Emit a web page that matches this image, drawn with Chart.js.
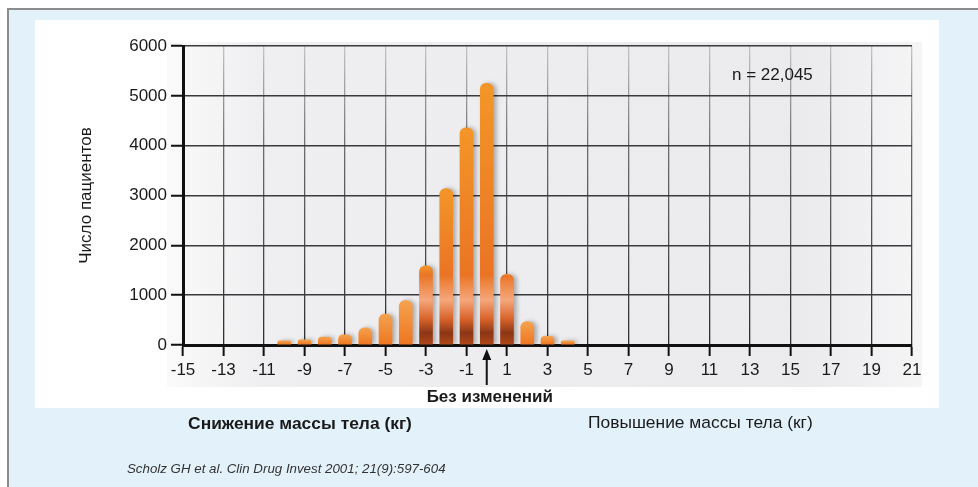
<!DOCTYPE html>
<html lang="ru">
<head>
<meta charset="utf-8">
<script src="https://cdn.jsdelivr.net/npm/chart.js@4.4.1/dist/chart.umd.min.js"></script>
<style>
  html, body { margin: 0; padding: 0; background: #ffffff; }
  body { width: 978px; height: 487px; position: relative; overflow: hidden;
         font-family: "Liberation Sans", Arial, sans-serif; color: #1a1a1a; }
  .frame { position: absolute; left: 7px; top: 8px; width: 980px; height: 490px;
           background: #e3f1fa; border-top: 2px solid #8c8c8c; border-left: 2px solid #8c8c8c; }
  .panel { position: absolute; left: 35px; top: 20px; width: 904px; height: 388px; background: #ffffff; }
  .wrap { position: absolute; left: 0; top: 0; width: 978px; height: 487px; }
  .note { position: absolute; white-space: nowrap; font-size: 17.4px; line-height: 20px; }
  .loss { left: 300px; top: 413px; transform: translateX(-50%); font-weight: bold; }
  .gain { left: 588px; top: 412px; }
  .cite { left: 127px; top: 459px; font-size: 13.3px; font-style: italic; color: #333; }
</style>
</head>
<body>
<div class="frame"></div>
<div class="panel"></div>
<div class="wrap"><canvas id="weightChart"></canvas></div>
<div class="note loss">Снижение массы тела (кг)</div>
<div class="note gain">Повышение массы тела (кг)</div>
<div class="note cite">Scholz GH et al. Clin Drug Invest 2001; 21(9):597-604</div>
<script>
// weight change (kg) and number of patients per bin
const weightChange = [-10, -9, -8, -7, -6, -5, -4, -3, -2, -1, 0, 1, 2, 3, 4];
const patients = [85, 105, 160, 205, 345, 620, 890, 1590, 3140, 4360, 5250, 1420, 470, 175, 85];

const yTicks = [0, 1000, 2000, 3000, 4000, 5000, 6000];
const xTicks = [-15, -13, -11, -9, -7, -5, -3, -1, 1, 3, 5, 7, 9, 11, 13, 15, 17, 19, 21];

const sampleLabel = 'n = 22,045';
const noChangeLabel = 'Без изменений';
const yTitle = 'Число пациентов';

const FONT = '"Liberation Sans", Arial, sans-serif';

// orange bar fill with darker base, built per bar from its own height
function barFill(context) {
  const chart = context.chart;
  const area = chart.chartArea;
  if (!area || !context.parsed) return '#f08a22';
  const yTop = chart.scales.y.getPixelForValue(context.parsed.y);
  const h = area.bottom - yTop;
  if (h <= 0) return '#f08a22';
  const g = chart.ctx.createLinearGradient(0, yTop, 0, area.bottom);
  if (h < 60) {
    g.addColorStop(0, '#f5a24e');
    g.addColorStop(1, '#ee7520');
    return g;
  }
  const f = px => Math.max(0, Math.min(1, 1 - px / h));
  g.addColorStop(0, '#f39628');
  g.addColorStop(f(70), '#ea7424');
  g.addColorStop(f(45), '#f5a77c');
  g.addColorStop(f(26), '#d8632a');
  g.addColorStop(f(12), '#8c3616');
  g.addColorStop(1, '#b04818');
  return g;
}

// vertical grid lines fade towards the top
function vGridColor(context) {
  const chart = context.chart;
  const area = chart.chartArea;
  if (!area) return '#555';
  const g = chart.ctx.createLinearGradient(0, area.top, 0, area.bottom);
  g.addColorStop(0, '#c4c4c8');
  g.addColorStop(0.35, '#6a6a6e');
  g.addColorStop(1, '#2e2e30');
  return g;
}

const backdrop = {
  id: 'backdrop',
  beforeDraw(chart) {
    const { ctx, chartArea: a } = chart;
    const l = a.left - 16, t = a.top - 4, r = a.right + 10, b = a.bottom + 42;
    const g = ctx.createLinearGradient(l, 0, r, 0);
    g.addColorStop(0, '#fafafa');
    g.addColorStop(0.12, '#efeff1');
    g.addColorStop(0.85, '#ebebee');
    g.addColorStop(1, '#f5f5f6');
    ctx.save();
    ctx.fillStyle = g;
    ctx.fillRect(l, t, r - l, b - t);
    ctx.restore();
  },
  beforeDatasetsDraw(chart) {
    const ctx = chart.ctx;
    ctx.save();
    ctx.shadowColor = 'rgba(0,0,0,0.28)';
    ctx.shadowOffsetX = 3;
    ctx.shadowOffsetY = 0;
    ctx.shadowBlur = 4;
  },
  afterDatasetsDraw(chart) {
    chart.ctx.restore();
  }
};

const annotations = {
  id: 'annotations',
  afterDraw(chart) {
    const { ctx, chartArea: a, scales } = chart;
    const x0 = scales.x.getPixelForValue(0);
    ctx.save();
    // arrow pointing at zero change
    ctx.strokeStyle = '#111';
    ctx.fillStyle = '#111';
    ctx.lineWidth = 2;
    ctx.beginPath();
    ctx.moveTo(x0, a.bottom + 40);
    ctx.lineTo(x0, a.bottom + 12);
    ctx.stroke();
    ctx.beginPath();
    ctx.moveTo(x0, a.bottom + 4);
    ctx.lineTo(x0 - 4.5, a.bottom + 15);
    ctx.lineTo(x0 + 4.5, a.bottom + 15);
    ctx.closePath();
    ctx.fill();

    ctx.font = 'bold 17px ' + FONT;
    ctx.textAlign = 'center';
    ctx.textBaseline = 'middle';
    ctx.fillStyle = '#1a1a1a';
    ctx.fillText(noChangeLabel, x0 + 3, a.bottom + 52);

    ctx.font = '17px ' + FONT;
    ctx.textAlign = 'left';
    ctx.fillText(sampleLabel, a.left + 549, a.top + 29);
    ctx.restore();
  }
};

const ctx = document.getElementById('weightChart').getContext('2d');

new Chart(ctx, {
  type: 'bar',
  data: {
    datasets: [
      {
        label: yTitle,
        data: weightChange.map((x, i) => ({ x: x, y: patients[i] })),
        backgroundColor: barFill,
        borderWidth: 0,
        borderRadius: 6,
        barThickness: 13,
      },
    ],
  },
  options: {
    responsive: true,
    maintainAspectRatio: false,
    animation: false,
    layout: {
      padding: { left: 72, right: 66, top: 46, bottom: 92 },
    },
    plugins: {
      legend: { display: false },
      tooltip: { enabled: false },
    },
    scales: {
      x: {
        type: 'linear',
        min: xTicks[0],
        max: xTicks[xTicks.length - 1],
        offset: false,
        afterFit: (scale) => { scale.height = 50; },
        afterBuildTicks: (scale) => {
          scale.ticks = xTicks.map(v => ({ value: v }));
        },
        ticks: {
          color: '#1a1a1a',
          font: { family: FONT, size: 17 },
          padding: 4,
          maxRotation: 0,
          autoSkip: false,
          callback: (v) => String(v),
        },
        grid: {
          offset: false,
          color: vGridColor,
          lineWidth: 1.3,
          tickColor: '#111',
          tickWidth: 2,
          tickLength: 11,
        },
        border: { color: '#111', width: 3 },
      },
      y: {
        min: yTicks[0],
        max: yTicks[yTicks.length - 1],
        afterFit: (scale) => { scale.width = 111; },
        afterBuildTicks: (scale) => {
          scale.ticks = yTicks.map(v => ({ value: v }));
        },
        ticks: {
          color: '#1a1a1a',
          font: { family: FONT, size: 17 },
          padding: 4,
          callback: (v) => String(v),
        },
        grid: {
          color: '#3a3a3c',
          lineWidth: 1.5,
          tickColor: '#111',
          tickWidth: 2,
          tickLength: 12,
        },
        border: { color: '#111', width: 3 },
        title: {
          display: true,
          text: yTitle,
          color: '#1a1a1a',
          font: { family: FONT, size: 17 },
        },
      },
    },
  },
  plugins: [backdrop, annotations],
});
</script>
</body>
</html>
